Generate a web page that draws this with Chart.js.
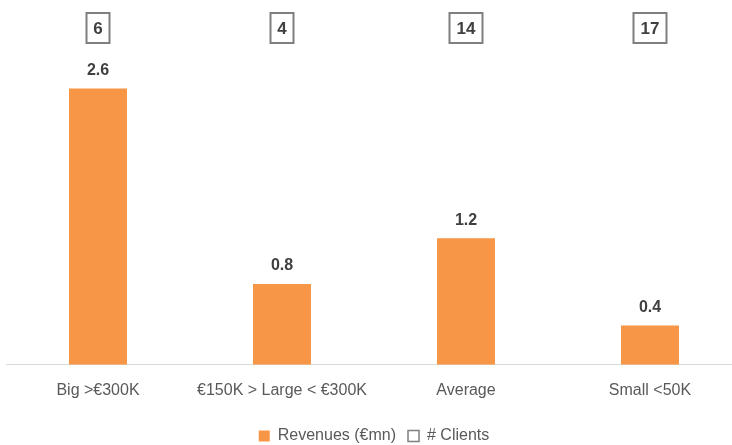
<!DOCTYPE html>
<html>
<head>
<meta charset="utf-8">
<script src="https://cdn.jsdelivr.net/npm/chart.js@4"></script>
<style>
  html, body { margin: 0; padding: 0; background: #fff; overflow: hidden; }
  #wrap { width: 742px; height: 445px; }
</style>
</head>
<body>
<div id="wrap"><canvas id="chart"></canvas></div>
<script>
// data
const categories = ['Big >€300K', '€150K > Large < €300K', 'Average', 'Small <50K'];
const revenues = [2.6, 0.76, 1.19, 0.37];
const clients = [6, 4, 14, 17];

const orange = '#F79646';
const labelFont = '"Liberation Sans", Arial, sans-serif';

// draws value labels above bars and the boxed client counts on top
const labelsPlugin = {
    id: 'labels',
    afterDatasetsDraw(chart) {
        const ctx = chart.ctx;
        const x = chart.scales.x;
        const meta = chart.getDatasetMeta(0);
        ctx.save();
        ctx.textAlign = 'center';
        ctx.textBaseline = 'middle';
        ctx.fillStyle = '#404040';
        ctx.font = 'bold 16px ' + labelFont;
        meta.data.forEach((bar, i) => {
            ctx.fillText(revenues[i].toFixed(1), bar.x, bar.y - 18);
        });
        ctx.font = 'bold 17px ' + labelFont;
        clients.forEach((c, i) => {
            const cx = x.getPixelForValue(i);
            const cy = 28;
            const txt = String(c);
            const w = Math.round(ctx.measureText(txt).width + 14);
            ctx.strokeStyle = '#7F7F7F';
            ctx.lineWidth = 2;
            ctx.strokeRect(cx - w / 2, cy - 15, w, 30);
            ctx.fillText(txt, cx, cy + 1);
        });
        ctx.restore();
    }
};

new Chart(document.getElementById('chart').getContext('2d'), {
    type: 'bar',
    data: {
        labels: categories,
        datasets: [{
            label: 'Revenues (€mn)',
            data: revenues,
            backgroundColor: orange,
            borderWidth: 0,
            categoryPercentage: 1,
            barPercentage: 0.315,
            yAxisID: 'y'
        }, {
            type: 'line',
            label: '# Clients',
            data: clients,
            showLine: false,
            pointRadius: 0,
            backgroundColor: '#fff',
            borderColor: '#7F7F7F',
            borderWidth: 1.5,
            yAxisID: 'y2'
        }]
    },
    options: {
        responsive: true,
        maintainAspectRatio: false,
        animation: false,
        layout: { padding: { top: 46, left: 6, right: 0, bottom: -9 } },
        scales: {
            x: {
                grid: { display: false, drawTicks: false },
                border: { color: '#D9D9D9', width: 1 },
                ticks: {
                    color: '#595959',
                    font: { family: labelFont, size: 16 },
                    padding: 16,
                    maxRotation: 0
                }
            },
            y: { display: false, min: 0, max: 3.0 },
            y2: { display: false, min: 0, max: 20 }
        },
        plugins: {
            legend: {
                position: 'bottom',
                labels: {
                    color: '#595959',
                    font: { family: labelFont, size: 16 },
                    boxWidth: 11,
                    boxHeight: 11,
                    padding: 12
                }
            },
            tooltip: { enabled: false }
        }
    },
    plugins: [labelsPlugin]
});
</script>
</body>
</html>
